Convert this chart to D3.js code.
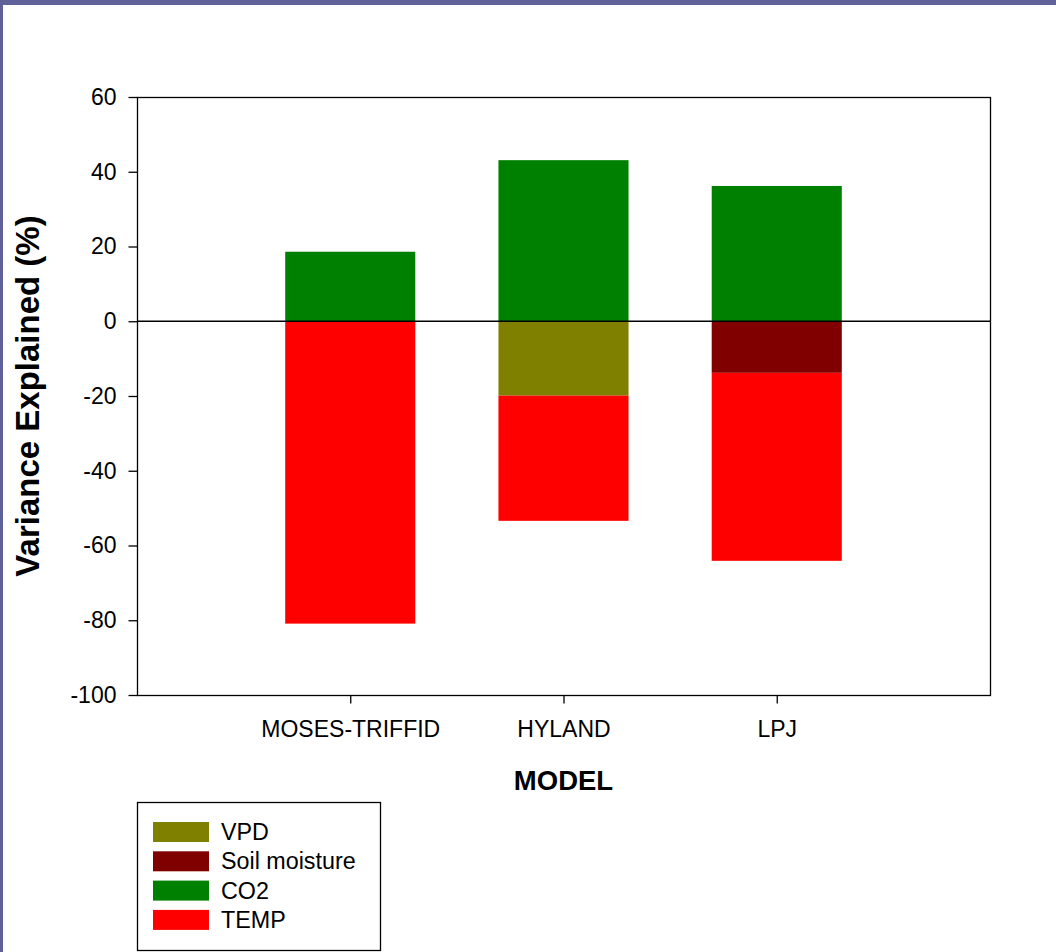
<!DOCTYPE html>
<html>
<head>
<meta charset="utf-8">
<script src="https://cdn.jsdelivr.net/npm/d3@7"></script>
<style>
  html, body { margin: 0; padding: 0; background: #fff; }
  svg { display: block; font-family: "Liberation Sans", Arial, sans-serif; }
</style>
</head>
<body>
<svg id="chart" width="1056" height="952"></svg>
<script>
// ---- data ----
const categories = ["MOSES-TRIFFID", "HYLAND", "LPJ"];
const seriesNames = ["VPD", "Soil moisture", "CO2", "TEMP"];
const seriesColors = ["#808000", "#800000", "#008000", "#ff0000"];
const vpdValues  = [0, -19.9, 0];
const soilValues = [0, 0, -13.8];
const co2Values  = [18.6, 43.1, 36.2];
const tempValues = [-80.9, -33.5, -50.3];
const yTickValues = [-100, -80, -60, -40, -20, 0, 20, 40, 60];
const yTitle = "Variance Explained (%)";
const xTitle = "MODEL";

// ---- layout ----
const svg = d3.select("#chart");
const W = 1056, H = 952;
const plot = { left: 137, right: 990, top: 97, bottom: 695 };

// page border (slide frame)
svg.append("rect").attr("x", 0).attr("y", 0).attr("width", W).attr("height", 5).attr("fill", "#61619a");
svg.append("rect").attr("x", 0).attr("y", 0).attr("width", 3).attr("height", H).attr("fill", "#61619a");

const x = d3.scaleLinear().domain([0, categories.length + 1]).range([plot.left, plot.right]);
const y = d3.scaleLinear().domain([-100, 60]).range([plot.bottom, plot.top]);
const step = x(1) - x(0);
const barW = step * 0.61;

// stacking: positives up from 0, negatives down from 0 in series order
const seriesValues = [vpdValues, soilValues, co2Values, tempValues];
const rects = [];
categories.forEach((c, i) => {
  let pos = 0, neg = 0;
  seriesValues.forEach((vals, s) => {
    const v = vals[i];
    if (!v) return;
    let y0, y1;
    if (v >= 0) { y0 = pos; y1 = pos + v; pos = y1; }
    else { y0 = neg; y1 = neg + v; neg = y1; }
    rects.push({ i, s, y0, y1 });
  });
});

svg.append("g").selectAll("rect").data(rects).join("rect")
  .attr("x", d => x(d.i + 1) - barW / 2)
  .attr("width", barW)
  .attr("y", d => y(Math.max(d.y0, d.y1)))
  .attr("height", d => Math.abs(y(d.y0) - y(d.y1)))
  .attr("fill", d => seriesColors[d.s]);

// zero line
svg.append("line")
  .attr("x1", plot.left).attr("x2", plot.right)
  .attr("y1", y(0)).attr("y2", y(0))
  .attr("stroke", "#000").attr("stroke-width", 1.5);

// frame
svg.append("rect")
  .attr("x", plot.left + 0.5).attr("y", plot.top + 0.5)
  .attr("width", plot.right - plot.left).attr("height", plot.bottom - plot.top)
  .attr("fill", "none").attr("stroke", "#000").attr("stroke-width", 1.3);

// y axis
const yAxis = d3.axisLeft(y).tickValues(yTickValues).tickSize(9).tickSizeOuter(0).tickPadding(12).tickFormat(d => String(d));
const gy = svg.append("g").attr("transform", `translate(${plot.left + 0.5},0)`).call(yAxis);
gy.select(".domain").remove();
gy.selectAll("text").attr("font-size", 23).attr("font-family", "Liberation Sans, Arial, sans-serif").attr("fill", "#000");
gy.selectAll("line").attr("stroke", "#000").attr("stroke-width", 1.3);

// x axis
const xAxis = d3.axisBottom(x).tickValues(categories.map((c, i) => i + 1))
  .tickFormat(d => categories[d - 1]).tickSize(8).tickSizeOuter(0).tickPadding(17);
const gx = svg.append("g").attr("transform", `translate(0,${plot.bottom + 0.5})`).call(xAxis);
gx.select(".domain").remove();
gx.selectAll("text").attr("font-size", 23).attr("font-family", "Liberation Sans, Arial, sans-serif").attr("fill", "#000");
gx.selectAll("line").attr("stroke", "#000").attr("stroke-width", 1.3);

// axis titles
svg.append("text")
  .attr("transform", `translate(39,${(plot.top + plot.bottom) / 2}) rotate(-90)`)
  .attr("text-anchor", "middle")
  .attr("font-size", 33).attr("font-weight", "bold")
  .text(yTitle);

svg.append("text")
  .attr("x", (plot.left + plot.right) / 2).attr("y", 790)
  .attr("text-anchor", "middle")
  .attr("font-size", 27.5).attr("font-weight", "bold")
  .text(xTitle);

// legend
const lg = svg.append("g");
lg.append("rect").attr("x", 137.5).attr("y", 802.5).attr("width", 243).attr("height", 148)
  .attr("fill", "#fff").attr("stroke", "#000").attr("stroke-width", 1.3);
const rows = lg.selectAll("g.row").data(seriesNames).join("g").attr("class", "row")
  .attr("transform", (d, i) => `translate(0,${822 + i * 29.3})`);
rows.append("rect").attr("x", 153).attr("y", 0).attr("width", 56).attr("height", 20)
  .attr("fill", (d, i) => seriesColors[i]);
rows.append("text").attr("x", 221).attr("y", 18).attr("font-size", 23.3).text(d => d);
</script>
</body>
</html>
